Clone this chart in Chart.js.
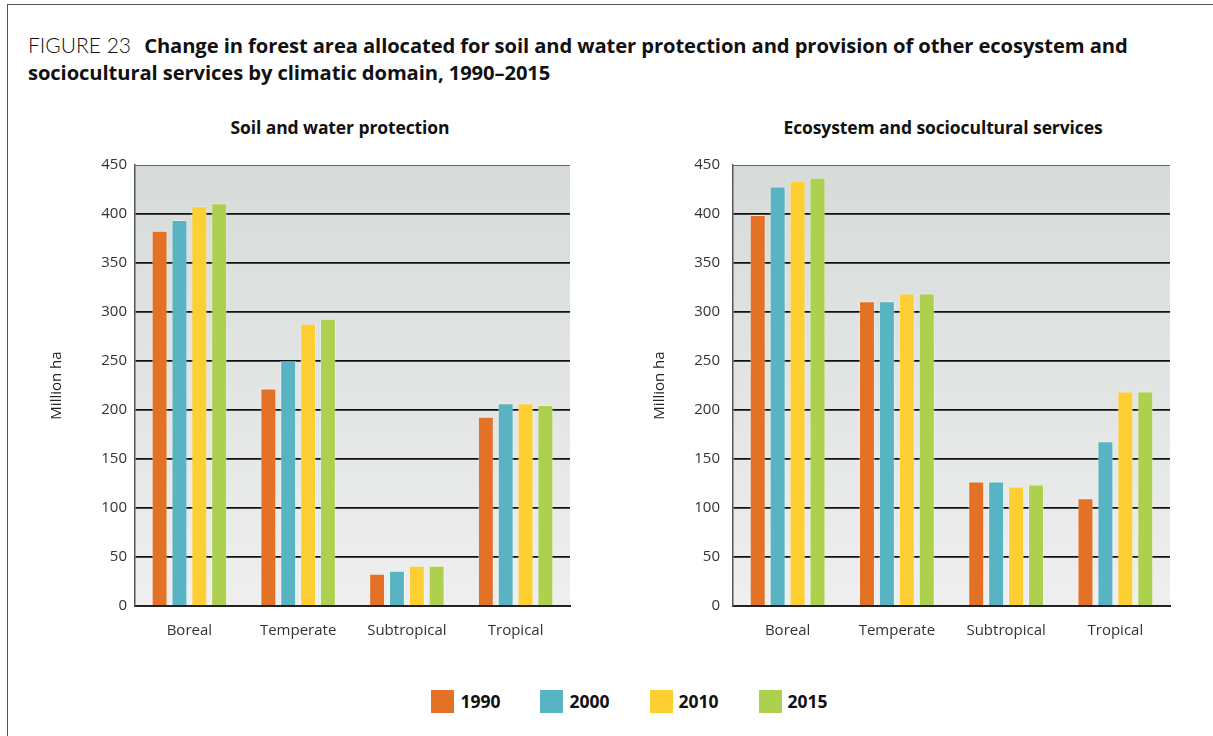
<!DOCTYPE html>
<html>
<head>
<meta charset="utf-8">
<script src="https://cdn.jsdelivr.net/npm/chart.js@4.4.1/dist/chart.umd.min.js"></script>
<style>
  html, body { margin:0; padding:0; background:#fff; }
  body { width:1213px; height:736px; position:relative; overflow:hidden; font-family:"Open Sans", "DejaVu Sans", sans-serif; color:#111; }
  #frame { position:absolute; left:7px; top:4px; width:1230px; height:760px; border:1.5px solid #555; box-sizing:border-box; }
  #title { position:absolute; left:28px; top:31px; width:1125px; font-size:20.2px; line-height:27px; letter-spacing:-0.1px; }
  #title .fig { font-weight:300; font-family:"Lato","Open Sans",sans-serif; font-size:21px; letter-spacing:0; margin-right:8px; }
  #title b { font-weight:700; }
  .sub { position:absolute; top:115px; font-size:17.5px; font-weight:700; text-align:center; width:500px; letter-spacing:-0.1px; }
  .cw { position:absolute; }
  #legend { position:absolute; top:689px; left:0; width:1213px; display:flex; justify-content:center; padding-left:46px; box-sizing:border-box; }
  .li { display:flex; align-items:center; margin:0 20px; font-weight:700; font-size:17.5px; }
  .sw { width:23px; height:23px; margin-right:6px; }
</style>
</head>
<body>
<div id="frame"></div>
<div id="title"><span class="fig">FIGURE 23</span> <b>Change in forest area allocated for soil and water protection and provision of other ecosystem and sociocultural services by climatic domain, 1990–2015</b></div>
<div class="sub" style="left:90px;">Soil and water protection</div>
<div class="sub" style="left:693px;">Ecosystem and sociocultural services</div>
<div class="cw" style="left:40px; top:155px; width:540px; height:492px;"><canvas id="c1"></canvas></div>
<div class="cw" style="left:638px; top:155px; width:540px; height:492px;"><canvas id="c2"></canvas></div>
<div id="legend"></div>
<script>
const categories = ['Boreal', 'Temperate', 'Subtropical', 'Tropical'];
const years = ['1990', '2000', '2010', '2015'];
const yearColors = ['#e37226', '#58b4c2', '#fecf32', '#add14f'];
const yTickValues = [0, 50, 100, 150, 200, 250, 300, 350, 400, 450];

const soil1990 = [383, 222, 33, 193];
const soil2000 = [394, 250, 36, 207];
const soil2010 = [408, 288, 41, 207];
const soil2015 = [411, 293, 41, 205];

const eco1990 = [399, 311, 127, 110];
const eco2000 = [428, 311, 127, 168];
const eco2010 = [434, 319, 122, 219];
const eco2015 = [437, 319, 124, 219];

const FONT = '"Open Sans", "DejaVu Sans", sans-serif';

const bgPlugin = {
  id: 'plotBg',
  beforeDraw(chart) {
    const a = chart.chartArea, ctx = chart.ctx;
    const g = ctx.createLinearGradient(0, a.top, 0, a.bottom);
    g.addColorStop(0, '#d6dbd9');
    g.addColorStop(1, '#eeefee');
    ctx.save();
    ctx.fillStyle = g;
    ctx.fillRect(a.left, a.top, a.right - a.left, a.bottom - a.top);
    ctx.restore();
  }
};

function makeChart(id, series, tickPad, titlePad, rightPad) {
  const datasets = series.map((vals, i) => ({
    label: years[i],
    data: vals,
    backgroundColor: yearColors[i],
    borderColor: 'rgba(255,255,255,0.35)',
    borderWidth: 1,
    categoryPercentage: 0.73,
    barPercentage: 0.8
  }));
  return new Chart(document.getElementById(id), {
    type: 'bar',
    data: { labels: categories, datasets },
    plugins: [bgPlugin],
    options: {
      responsive: true,
      maintainAspectRatio: false,
      animation: false,
      layout: { padding: { top: 10, right: rightPad, left: 0, bottom: 0 } },
      plugins: { legend: { display: false }, tooltip: { enabled: false } },
      scales: {
        x: {
          grid: { display: false, drawTicks: false },
          border: { display: true, color: '#222', width: 2 },
          ticks: { padding: 16, color: '#333', font: { family: FONT, size: 15 } },
          afterFit(s) { s.height = 41; s.paddingLeft = 0; s.paddingRight = 0; }
        },
        y: {
          min: 0, max: 450,
          afterBuildTicks(s) { s.ticks = yTickValues.map(v => ({ value: v })); },
          grid: {
            drawTicks: false,
            color: (c) => c.tick && c.tick.value === 450 ? '#666' : '#111',
            lineWidth: (c) => c.tick && c.tick.value === 450 ? 1 : 1.8
          },
          border: { display: true, color: '#555', width: 1.5 },
          ticks: { padding: tickPad, color: '#333', font: { family: FONT, size: 15 } },
          title: { display: true, text: 'Million ha', color: '#222', font: { family: FONT, size: 15 }, padding: { top: titlePad, bottom: 0 } },
          afterFit(s) { s.width = 95; s.paddingTop = 0; s.paddingBottom = 0; }
        }
      }
    }
  });
}

makeChart('c1', [soil1990, soil2000, soil2010, soil2015], 8, 8, 10);
makeChart('c2', [eco1990, eco2000, eco2010, eco2015], 13, 13, 8);

const leg = document.getElementById('legend');
years.forEach((y, i) => {
  const d = document.createElement('div');
  d.className = 'li';
  d.innerHTML = '<span class="sw" style="background:' + yearColors[i] + '"></span>' + y;
  leg.appendChild(d);
});
</script>
</body>
</html>
